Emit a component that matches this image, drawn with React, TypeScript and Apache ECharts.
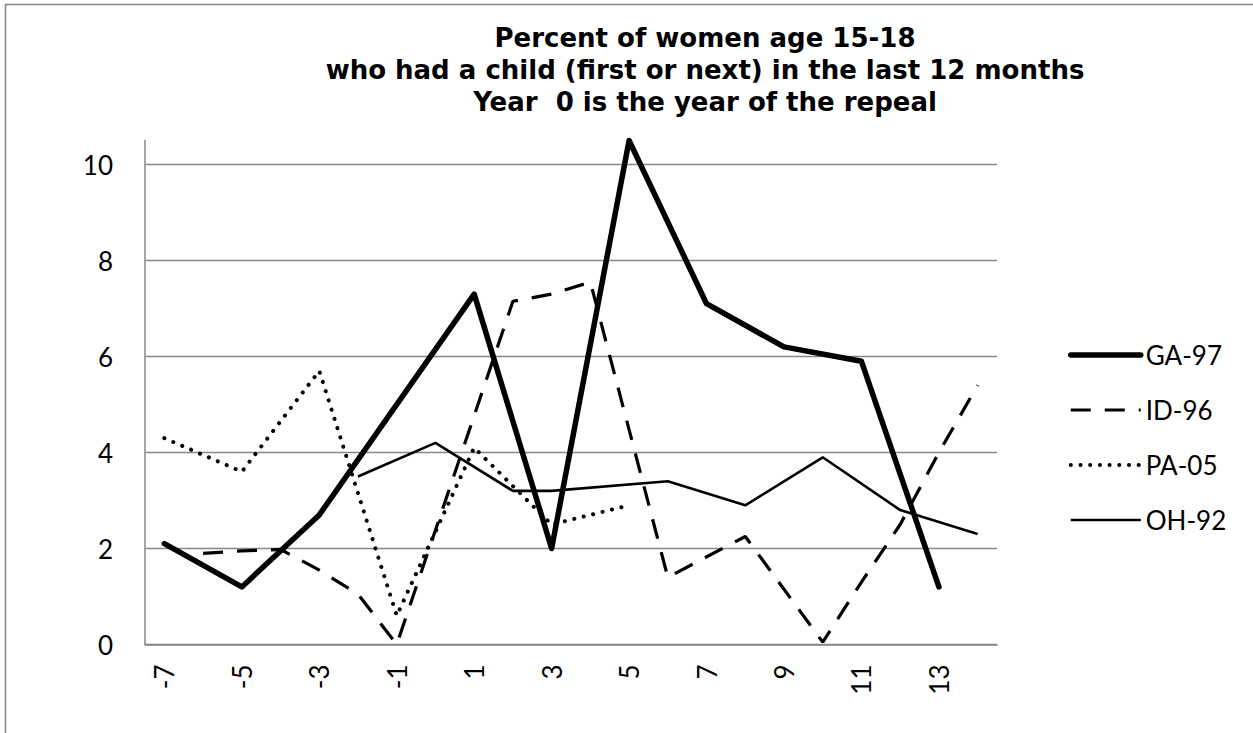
import React, { useEffect, useRef } from "react";
import * as echarts from "echarts";

// Years relative to repeal (category axis)
const years: string[] = [
  "-7", "-6", "-5", "-4", "-3", "-2", "-1", "0", "1", "2", "3",
  "4", "5", "6", "7", "8", "9", "10", "11", "12", "13", "14",
];

// Percent values per year (null = no observation, line connects across)
const gaValues: (number | null)[] = [
  2.1, null, 1.2, null, 2.7, null, null, null, 7.3, null, 2.0,
  null, 10.5, null, 7.1, null, 6.2, null, 5.9, null, 1.2, null,
];
const idValues: (number | null)[] = [
  null, 1.9, 1.95, 1.98, 1.55, 1.05, 0.0, null, null, 7.15, 7.3,
  7.55, null, 1.4, null, 2.25, null, 0.05, 1.3, 2.5, 4.0, 5.4,
];
const paValues: (number | null)[] = [
  4.3, null, 3.6, null, 5.7, null, 0.6, null, 4.1, null, 2.5,
  null, 2.9, null, null, null, null, null, null, null, null, null,
];
const ohValues: (number | null)[] = [
  null, null, null, null, null, 3.5, null, 4.2, null, 3.2, 3.2,
  null, null, 3.4, null, 2.9, null, 3.9, null, 2.8, null, 2.3,
];

const seriesNames = ["GA-97", "ID-96", "PA-05", "OH-92"];
const titleLines = [
  "Percent of women age 15-18",
  "who had a child (first or next) in the last 12 months",
  "Year  0 is the year of the repeal",
];

const lineStyles: any[] = [
  { color: "#000", width: 5.5, join: "round", cap: "round" },
  { color: "#000", width: 3.2, type: [20, 14], cap: "butt" },
  { color: "#000", width: 4, type: [0.1, 9.6], cap: "round" },
  { color: "#000", width: 2.6 },
];

export default function App() {
  const ref = useRef<HTMLDivElement>(null);

  useEffect(() => {
    if (!ref.current) return;
    const chart = echarts.init(ref.current, null, { renderer: "svg" });
    const labelFont = { fontFamily: "Lato", fontSize: 26, color: "#000" };
    const hiddenSymbol = {
      color: "transparent",
      borderColor: "transparent",
      borderWidth: 0,
      opacity: 0,
    };

    const seriesData = [gaValues, idValues, paValues, ohValues];

    chart.setOption({
      animation: false,
      backgroundColor: "#fff",
      grid: { left: 145, right: 256, top: 140.5, bottom: 88.5, containLabel: false },
      graphic: [
        {
          type: "rect",
          silent: true,
          z: -10,
          shape: { x: 5.5, y: 4.5, width: 1400, height: 800 },
          style: { fill: "none", stroke: "#888", lineWidth: 1.6 },
        },
        ...titleLines.map((t, i) => ({
          type: "text",
          silent: true,
          x: 705,
          y: 38 + i * 32,
          style: {
            text: t,
            fontFamily: "DejaVu Sans",
            fontWeight: "bold",
            fontSize: 26,
            fill: "#000",
            textAlign: "center",
            align: "center",
            textVerticalAlign: "middle",
            verticalAlign: "middle",
          },
        })),
      ],
      legend: {
        orient: "vertical",
        left: 1068,
        top: 340,
        padding: 0,
        itemWidth: 70,
        itemHeight: 20,
        itemGap: 25,
        selectedMode: false,
        itemStyle: hiddenSymbol,
        data: seriesNames.map((n, i) => ({
          name: n,
          itemStyle: hiddenSymbol,
          lineStyle: { ...lineStyles[i] },
        })),
        textStyle: { ...labelFont, lineHeight: 30 },
      },
      xAxis: {
        type: "category",
        data: years,
        boundaryGap: true,
        axisLine: { show: true, lineStyle: { color: "#888", width: 1.5 } },
        axisTick: { show: false },
        splitLine: { show: false },
        axisLabel: { ...labelFont, interval: 1, rotate: 90, margin: 20 },
      },
      yAxis: {
        type: "value",
        min: 0,
        max: 10.5,
        interval: 2,
        axisLine: { show: true, lineStyle: { color: "#888", width: 1.5 } },
        axisTick: { show: false },
        splitLine: {
          show: true,
          showMaxLine: false,
          lineStyle: { color: "#888", width: 1.3 },
        },
        axisLabel: {
          ...labelFont,
          margin: 32,
          formatter: (v: number) => (v % 2 === 0 ? String(v) : ""),
        },
      },
      series: seriesNames.map((n, i) => ({
        name: n,
        type: "line",
        data: seriesData[i],
        connectNulls: true,
        symbol: "none",
        silent: true,
        lineStyle: lineStyles[i],
        itemStyle: { color: "#000" },
      })),
    });

    return () => chart.dispose();
  }, []);

  return (
    <div
      ref={ref}
      style={{ position: "absolute", left: 0, top: 0, width: 1253, height: 733, background: "#fff" }}
    />
  );
}
